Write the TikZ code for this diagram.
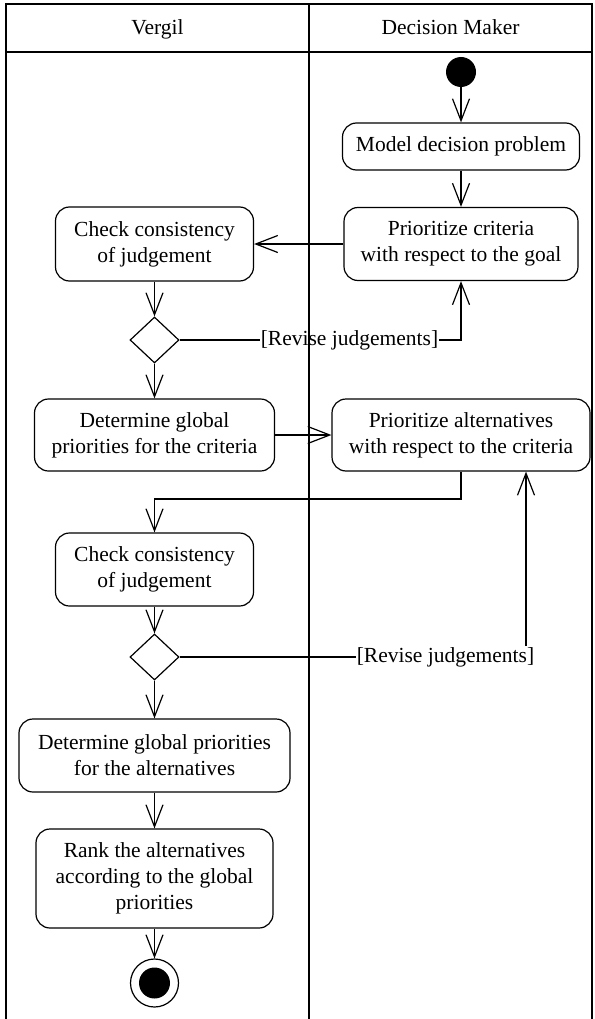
\documentclass[tikz,border=0pt]{standalone}
\usepackage{fontspec}
\setmainfont{Liberation Serif}
\usetikzlibrary{arrows.meta,shapes.geometric}

\begin{document}
\begin{tikzpicture}[x=1pt, y=-1pt,
  txt/.style={font=\fontsize{21.5}{26}\selectfont, align=center},
  activity/.style={txt, draw, line width=1.2pt, rounded corners=14pt, inner sep=0pt},
  decision/.style={draw, diamond, line width=1.2pt, inner sep=0pt,
                   minimum width=49pt, minimum height=46pt},
  guard/.style={txt, inner sep=1pt},
  flow/.style={line width=1.2pt, -{Straight Barb[length=22pt,width=17pt,line width=1.2pt]}},
  plain/.style={line width=1.2pt},
  lane/.style={line width=1.5pt}]

\useasboundingbox (0,0) rectangle (594,1019);

% swimlane frame
\draw[lane] (6,1019) -- (6,4) -- (592,4) -- (592,1019);
\draw[lane] (6,52) -- (592,52);
\draw[lane] (309,4) -- (309,1019);
\node[txt, anchor=base] (laneV) at (157.5,35) {Vergil};
\node[txt, anchor=base] (laneD) at (450.5,35) {Decision Maker};

% Decision Maker lane
\node[circle, fill, inner sep=0pt, minimum size=30pt] (start) at (461,72) {};
\node[activity, minimum width=237pt, minimum height=47pt] (model) at (461,146.5) {Model decision problem};
\node[activity, minimum width=234pt, minimum height=73pt] (prior) at (461,244) {Prioritize criteria\\with respect to the goal};
\node[activity, minimum width=258pt, minimum height=72pt] (prioralt) at (461,435) {Prioritize alternatives\\with respect to the criteria};

% Vergil lane
\node[activity, minimum width=198pt, minimum height=74pt] (check1) at (154.5,244) {Check consistency\\of judgement};
\node[decision] (d1) at (154.5,340) {};
\node[activity, minimum width=240pt, minimum height=72pt] (detcrit) at (154.5,435) {Determine global\\priorities for the criteria};
\node[activity, minimum width=198pt, minimum height=73pt] (check2) at (154.5,569.5) {Check consistency\\of judgement};
\node[decision] (d2) at (154.5,657) {};
\node[activity, minimum width=271pt, minimum height=73pt] (detalt) at (154.5,755.5) {Determine global priorities\\for the alternatives};
\node[activity, minimum width=237pt, minimum height=99pt] (rank) at (154.5,878.5) {Rank the alternatives\\according to the global\\priorities};
\node[circle, draw, line width=1.2pt, inner sep=0pt, minimum size=48pt] (final) at (154.5,983) {};
\node[circle, fill, inner sep=0pt, minimum size=31pt] (finaldot) at (154.5,983) {};

% guard labels
\node[guard] (lab1) at (349.5,340) {[Revise judgements]};
\node[guard] (lab2) at (445.5,657) {[Revise judgements]};
\coordinate (j1) at (154.5,499);
\coordinate (j2) at (526,657);

% control flow
\draw[flow] (start) -- (model);
\draw[flow] (model) -- (prior);
\draw[flow] (prior) -- (check1);
\draw[flow] (check1) -- (d1);
\draw[plain] (d1.east) -- (lab1.west);
\draw[flow] (lab1.east) -| (prior.south);
\draw[flow] (d1) -- (detcrit);
\draw[flow] (detcrit) -- (prioralt);
\draw[flow] (prioralt.south) |- (j1) -- (check2.north);
\draw[flow] (check2) -- (d2);
\draw[plain] (d2.east) -- (lab2.west);
\draw[flow] (lab2.north -| j2) -- (prioralt.south -| j2);
\draw[flow] (d2) -- (detalt);
\draw[flow] (detalt) -- (rank);
\draw[flow] (rank) -- (final);

\end{tikzpicture}
\end{document}
